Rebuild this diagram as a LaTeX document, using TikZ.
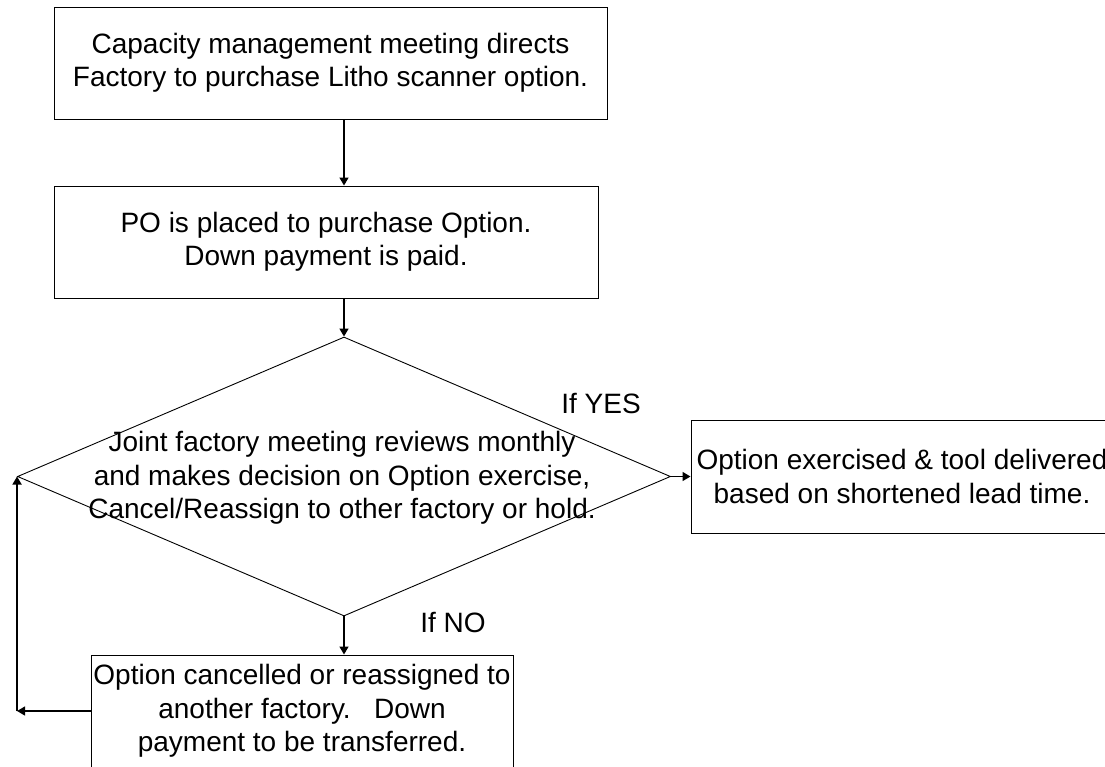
\documentclass[tikz,border=0pt]{standalone}
\usepackage{fontspec}
\setmainfont{Liberation Sans}
\usetikzlibrary{shapes.geometric,arrows.meta}

\tikzset{
  stepbox/.style={draw, line width=1pt, inner sep=0pt, align=center, minimum height=112pt},
  decision/.style={draw, diamond, line width=0.9pt, inner sep=0pt, minimum width=653pt, minimum height=279pt},
  flow/.style={line width=1.5pt, -{Triangle[length=8pt,width=9pt]}},
}

\begin{document}
\begin{tikzpicture}[x=1pt, y=-1pt, font=\fontsize{28}{33.5}\selectfont]
    % Fix the page to the reference size
    \useasboundingbox (0,0) rectangle (1105,766);
    % Draw the process boxes
    \node[stepbox, minimum width=553pt] (meeting) at (330.5,63) {Capacity management meeting directs\\Factory to purchase Litho scanner option.};
    \node[stepbox, minimum width=544pt] (po) at (326,242) {PO is placed to purchase Option.\\Down payment is paid.};
    \node[stepbox, minimum width=422pt, minimum height=113pt] (exercised) at (902,476.5) {Option exercised \& tool delivered\\based on shortened lead time.};
    \node[stepbox, minimum width=422pt] (cancel) at (302,711) {Option cancelled or reassigned to\\another factory.\ \ \ Down\\payment to be transferred.};
    % Draw the decision and its text
    \node[decision] (dec) at (344,476.5) {};
    \node[align=center] (dectext) at (342,478) {Joint factory meeting reviews monthly\\and makes decision on Option exercise,\\Cancel/Reassign to other factory or hold.};
    % Label the branches
    \node (yes) at (601,403) {If YES};
    \node (no) at (453,622) {If NO};
    % Draw the connectors
    \draw[flow] (meeting.south -| dec.north) -- (po.north -| dec.north);
    \draw[flow] (po.south -| dec.north) -- (dec.north);
    \draw[flow] (dec.east) -- (exercised.west);
    \draw[flow] (dec.south) -- (cancel.north -| dec.south);
    % Loop back from the cancel box
    \coordinate (back) at (dec.west |- cancel.west);
    \draw[flow] (cancel.west) -- (back);
    \draw[flow] (back) -- (dec.west);
\end{tikzpicture}
\end{document}
